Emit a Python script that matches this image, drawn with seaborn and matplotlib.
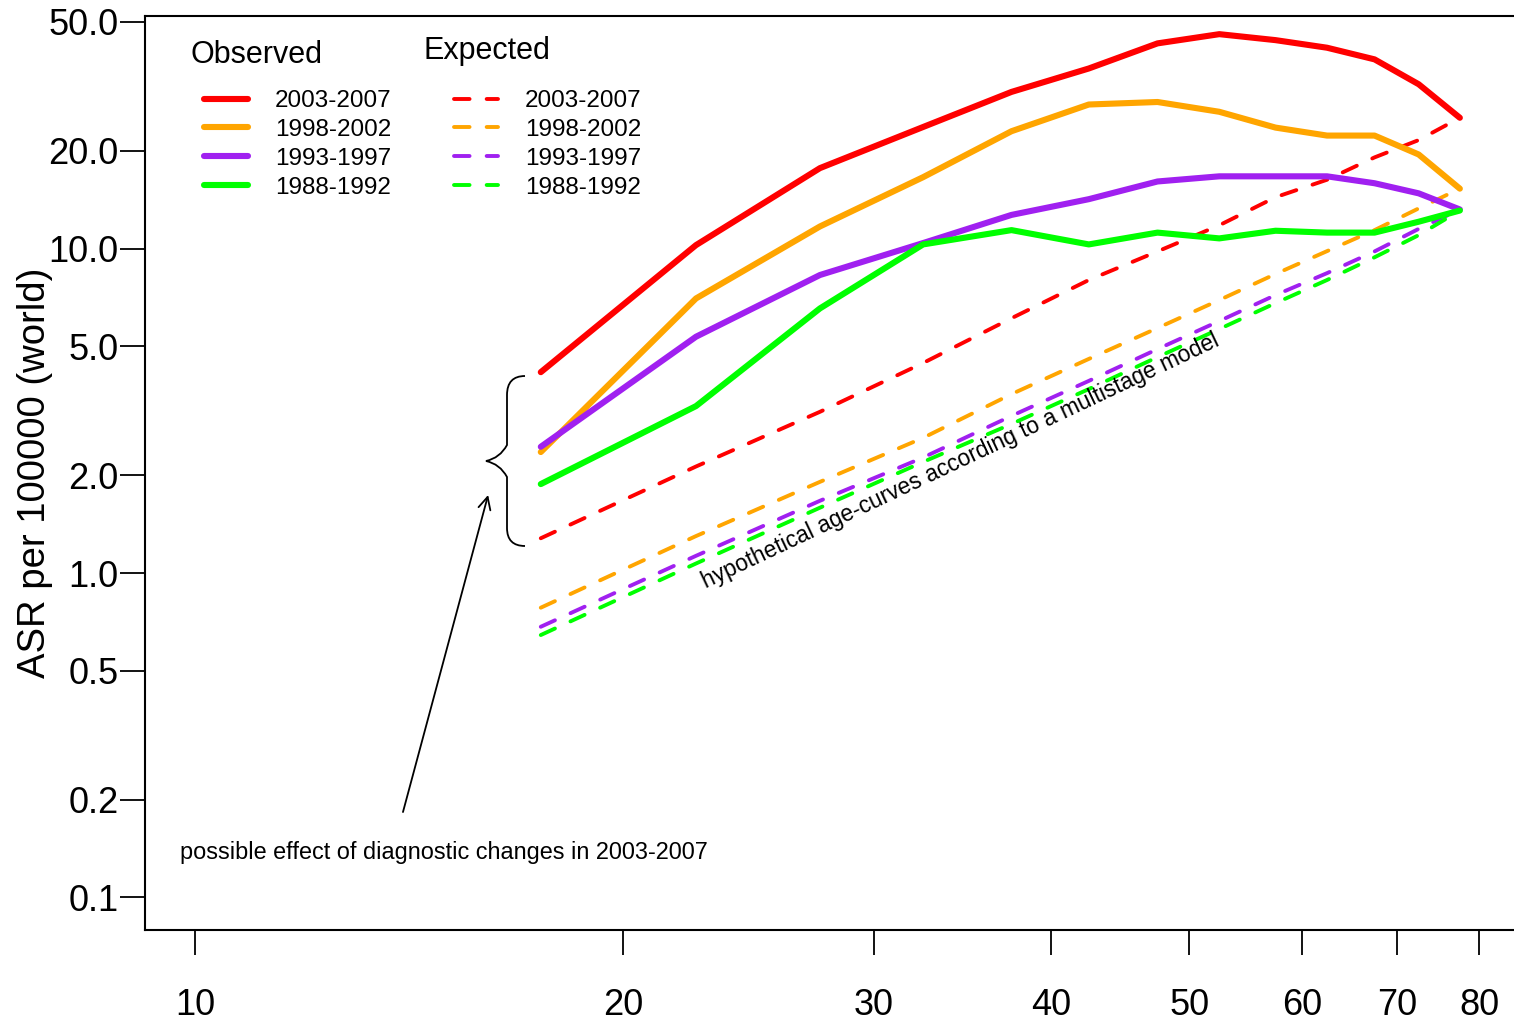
import numpy as np
import pandas as pd
import seaborn as sns
import matplotlib.pyplot as plt
from matplotlib.path import Path
from matplotlib.patches import PathPatch
from matplotlib.lines import Line2D

# Age-group midpoints (years)
ages = [17.5, 22.5, 27.5, 32.5, 37.5, 42.5, 47.5, 52.5, 57.5, 62.5, 67.5, 72.5, 77.5]
periods = ["2003-2007", "1998-2002", "1993-1997", "1988-1992"]

# Observed age-specific rates per 100000 (world standard)
obs_2003_2007 = [4.16, 10.25, 17.7, 23.7, 30.4, 35.9, 42.9, 45.8, 43.9, 41.6, 38.3, 32.1, 25.3]
obs_1998_2002 = [2.36, 7.02, 11.7, 16.6, 23.0, 27.8, 28.3, 26.4, 23.6, 22.3, 22.3, 19.5, 15.3]
obs_1993_1997 = [2.45, 5.35, 8.29, 10.4, 12.7, 14.2, 16.1, 16.7, 16.7, 16.7, 15.9, 14.8, 13.2]
obs_1988_1992 = [1.88, 3.27, 6.54, 10.3, 11.4, 10.3, 11.2, 10.75, 11.35, 11.2, 11.2, 12.1, 13.1]

# Expected rates from the multistage model
exp_2003_2007 = [1.28, 2.13, 3.14, 4.44, 6.10, 8.0, 9.8, 11.8, 14.4, 16.3, 19.1, 21.6, 25.3]
exp_1998_2002 = [0.782, 1.30, 1.91, 2.61, 3.56, 4.57, 5.69, 6.94, 8.35, 9.82, 11.4, 13.3, 15.3]
exp_1993_1997 = [0.683, 1.13, 1.67, 2.27, 3.05, 3.91, 4.90, 5.98, 7.19, 8.40, 9.80, 11.5, 13.2]
exp_1988_1992 = [0.644, 1.07, 1.59, 2.20, 2.88, 3.69, 4.63, 5.65, 6.79, 8.0, 9.4, 11.0, 13.1]

colors = ["#FF0000", "#FFA500", "#A020F0", "#00FF00"]

y_ticks = [50.0, 20.0, 10.0, 5.0, 2.0, 1.0, 0.5, 0.2, 0.1]
y_tick_labels = ["50.0", "20.0", "10.0", "5.0", "2.0", "1.0", "0.5", "0.2", "0.1"]
x_ticks = [10, 20, 30, 40, 50, 60, 70, 80]
x_tick_labels = ["10", "20", "30", "40", "50", "60", "70", "80"]

observed = [obs_2003_2007, obs_1998_2002, obs_1993_1997, obs_1988_1992]
expected = [exp_2003_2007, exp_1998_2002, exp_1993_1997, exp_1988_1992]

sns.set_style("white")
plt.rcParams["font.family"] = ["Liberation Sans", "DejaVu Sans"]
plt.rcParams.update({"text.color": "black", "axes.labelcolor": "black",
                     "xtick.color": "black", "ytick.color": "black"})

OBS_LW = 4.4
EXP_LW = 2.8
EXP_DASH = [4.0, 4.4]

fig = plt.figure(figsize=(15.14, 10.21), dpi=100)
ax = fig.add_axes([145 / 1514, 91 / 1021, 1369 / 1514, 914 / 1021])

obs_handles, exp_handles = [], []
for per, col, o, e in zip(periods, colors, observed, expected):
    df_o = pd.DataFrame({"age": ages, "rate": o})
    df_e = pd.DataFrame({"age": ages, "rate": e})
    sns.lineplot(data=df_o, x="age", y="rate", ax=ax, color=col, linewidth=OBS_LW,
                 solid_capstyle="round", solid_joinstyle="round")
    sns.lineplot(data=df_e, x="age", y="rate", ax=ax, color=col, linewidth=EXP_LW)
    ax.lines[-1].set_dashes(EXP_DASH)
    ax.lines[-1].set_dash_capstyle("round")
    obs_handles.append(Line2D([], [], color=col, linewidth=OBS_LW, solid_capstyle="round"))
    exp_handles.append(Line2D([], [], color=col, linewidth=EXP_LW, dashes=EXP_DASH,
                              dash_capstyle="round"))

ax.set_xscale("log")
ax.set_yscale("log")
ax.set_xlim(9.22, 84.6)
ax.set_ylim(0.0794, 52.1)

ax.set_xticks(x_ticks)
ax.set_xticklabels(x_tick_labels)
ax.set_yticks(y_ticks)
ax.set_yticklabels(y_tick_labels)
ax.minorticks_off()
ax.tick_params(axis="both", which="major", direction="out", length=18, width=1.3,
               color="black", labelcolor="black", labelsize=26, left=True, bottom=True)
ax.tick_params(axis="x", pad=24)
ax.tick_params(axis="y", pad=1)

for side in ["left", "bottom", "top"]:
    ax.spines[side].set_color("black")
    ax.spines[side].set_linewidth(1.5)
ax.spines["right"].set_visible(False)

ax.set_xlabel("")
ax.set_ylabel("ASR per 100000 (world)", fontsize=27.5)
ax.yaxis.set_label_coords(-0.067, 0.5)

# Legend titles
ax.text(0.0329, 0.9573, "Observed", transform=ax.transAxes, ha="left", va="center",
        fontsize=22)
ax.text(0.2031, 0.9617, "Expected", transform=ax.transAxes, ha="left", va="center",
        fontsize=22)

# Legends: observed (solid) and expected (dashed)
leg_kw = dict(loc="upper left", frameon=False, fontsize=17.5, handlelength=1.8,
              handletextpad=1.12, labelspacing=0.28, borderpad=0, borderaxespad=0)
leg1 = ax.legend(obs_handles, periods, bbox_to_anchor=(0.0431, 0.919), **leg_kw)
ax.add_artist(leg1)
leg2 = ax.legend(exp_handles, periods, bbox_to_anchor=(0.2257, 0.919), **leg_kw)

# Annotations
ax.text(34.5, 2.22, "hypothetical age-curves according to a multistage model",
        rotation=25.3, rotation_mode="anchor", ha="center", va="center",
        fontsize=16.4)
ax.text(9.76, 0.138, "possible effect of diagnostic changes in 2003-2007",
        ha="left", va="center", fontsize=16.9)
ax.annotate("", xy=(16.07, 1.74), xytext=(14.0, 0.1834),
            arrowprops=dict(arrowstyle="->", color="black", lw=1.3,
                            mutation_scale=22, shrinkA=0, shrinkB=0))

# Curly brace spanning the range of 2003-2007 rates at the youngest age
def px(x, y):
    return ((x - 145) / 1369, (930 - y) / 914)

brace_pts = [
    px(525, 376), px(507, 376), px(507, 395), px(507, 415),
    px(507, 445), px(500, 458), px(486, 461),
    px(500, 464), px(507, 477),
    px(507, 510), px(507, 528), px(507, 546), px(525, 546),
]
codes = [Path.MOVETO, Path.CURVE3, Path.CURVE3, Path.LINETO,
         Path.LINETO, Path.CURVE3, Path.CURVE3,
         Path.CURVE3, Path.CURVE3,
         Path.LINETO, Path.LINETO, Path.CURVE3, Path.CURVE3]
ax.add_patch(PathPatch(Path(brace_pts, codes), transform=ax.transAxes,
                       fill=False, edgecolor="black", lw=1.3))

fig.savefig("out.png", dpi=100)
